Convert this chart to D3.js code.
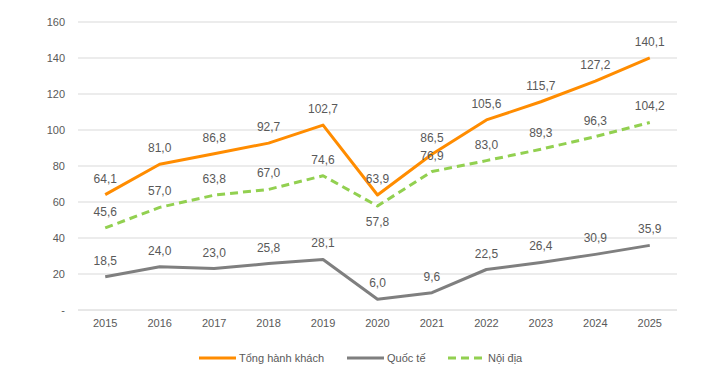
<!DOCTYPE html>
<html lang="vi">
<head>
<meta charset="UTF-8">
<title>Hành khách</title>
<script src="https://d3js.org/d3.v7.min.js"></script>
<style>
  body { margin: 0; background: #fff; }
  text { font-family: "Liberation Sans", Arial, sans-serif; }
</style>
</head>
<body>
<script>
var years = ["2015","2016","2017","2018","2019","2020","2021","2022","2023","2024","2025"];
var tongHanhKhach = [64.1, 81.0, 86.8, 92.7, 102.7, 63.9, 86.5, 105.6, 115.7, 127.2, 140.1];
var quocTe = [18.5, 24.0, 23.0, 25.8, 28.1, 6.0, 9.6, 22.5, 26.4, 30.9, 35.9];
var noiDia = [45.6, 57.0, 63.8, 67.0, 74.6, 57.8, 76.9, 83.0, 89.3, 96.3, 104.2];
var yTicks = [0, 20, 40, 60, 80, 100, 120, 140, 160];
var seriesNames = ["Tổng hành khách", "Quốc tế", "Nội địa"];

var w = 728, h = 374;
var plotLeft = 78, plotRight = 677, plotTop = 22, plotBottom = 310;

var svg = d3.select("body").append("svg")
  .attr("width", w).attr("height", h);

var x = d3.scaleBand().domain(years).range([plotLeft, plotRight]);
var y = d3.scaleLinear().domain([0, 160]).range([plotBottom, plotTop]);

// gridlines
svg.selectAll("line.grid").data(yTicks).enter().append("line")
  .attr("x1", plotLeft).attr("x2", plotRight)
  .attr("y1", function(d){ return y(d); })
  .attr("y2", function(d){ return y(d); })
  .attr("stroke", function(d){ return d === 0 ? "#d0d0d0" : "#d9d9d9"; })
  .attr("stroke-width", 1);

// y axis labels
svg.selectAll("text.ytick").data(yTicks).enter().append("text")
  .attr("x", 65)
  .attr("y", function(d){ return y(d) + 4; })
  .attr("text-anchor", "end")
  .attr("font-size", 11)
  .attr("fill", "#595959")
  .text(function(d){ return d === 0 ? "-" : d; });

// x axis labels
svg.selectAll("text.xtick").data(years).enter().append("text")
  .attr("x", function(d){ return x(d) + x.bandwidth() / 2; })
  .attr("y", 327)
  .attr("text-anchor", "middle")
  .attr("font-size", 11)
  .attr("fill", "#595959")
  .text(function(d){ return d; });

var series = [
  { name: seriesNames[0], values: tongHanhKhach, color: "#FF8C00", width: 3, dash: null },
  { name: seriesNames[1], values: quocTe, color: "#7F7F7F", width: 3, dash: null },
  { name: seriesNames[2], values: noiDia, color: "#92D050", width: 3, dash: "8,5" }
];

var line = d3.line()
  .x(function(d, i){ return x(years[i]) + x.bandwidth() / 2; })
  .y(function(d){ return y(d); });

series.forEach(function(s){
  svg.append("path")
    .datum(s.values)
    .attr("d", line)
    .attr("fill", "none")
    .attr("stroke", s.color)
    .attr("stroke-width", s.width)
    .attr("stroke-dasharray", s.dash)
    .attr("stroke-linejoin", "round");
});

// data labels (the 2020 domestic label sits under its point)
series.forEach(function(s, si){
  svg.selectAll(null).data(s.values).enter().append("text")
    .attr("x", function(d, i){ return x(years[i]) + x.bandwidth() / 2; })
    .attr("y", function(d, i){
      if (si === 2 && years[i] === "2020") return y(d) + 20;
      return y(d) - 12;
    })
    .attr("text-anchor", "middle")
    .attr("font-size", 12)
    .attr("fill", "#595959")
    .text(function(d){ return d.toFixed(1).replace(".", ","); });
});

// legend
var legendX = [199, 347, 448];
series.forEach(function(s, i){
  var g = svg.append("g").attr("transform", "translate(" + legendX[i] + ",358)");
  g.append("line")
    .attr("x1", 0).attr("x2", 37).attr("y1", 0).attr("y2", 0)
    .attr("stroke", s.color).attr("stroke-width", 3)
    .attr("stroke-dasharray", s.dash);
  g.append("text")
    .attr("x", 40).attr("y", 4)
    .attr("font-size", 11)
    .attr("fill", "#595959")
    .text(s.name);
});
</script>
</body>
</html>
